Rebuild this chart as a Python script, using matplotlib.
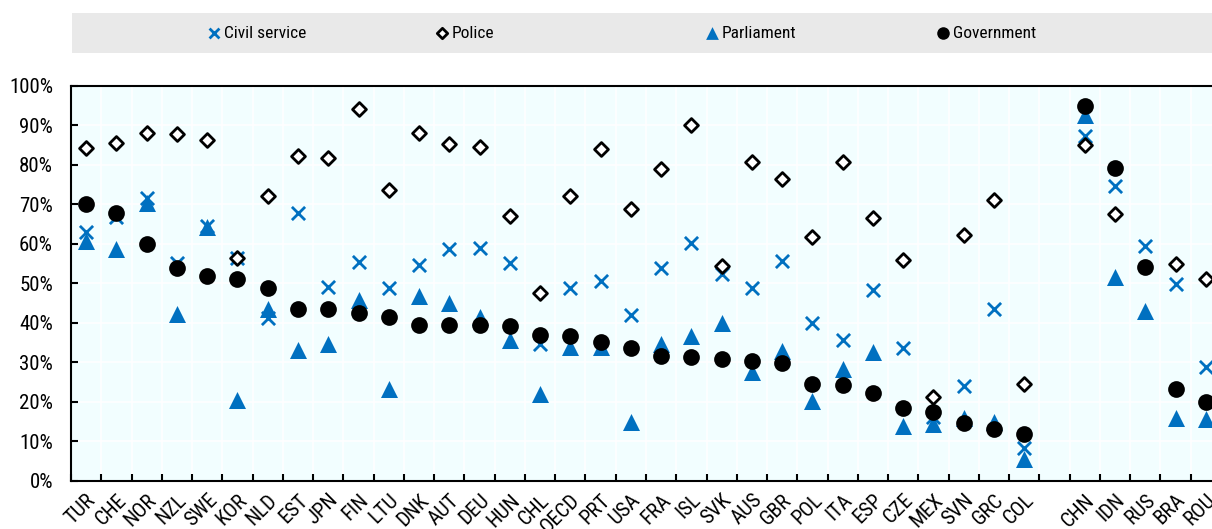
import numpy as np
import matplotlib
matplotlib.use("Agg")
import matplotlib.pyplot as plt
from matplotlib import font_manager
from matplotlib.ticker import MultipleLocator, FuncFormatter, FixedLocator
from matplotlib.legend import Legend

_names = {f.name for f in font_manager.fontManager.ttflist}
_narrow = [n for n in ["Liberation Sans Narrow", "Arial Narrow", "Roboto Condensed",
                       "Open Sans Condensed", "DejaVu Sans Condensed"] if n in _names]
plt.rcParams['font.family'] = _narrow[:1] + ['Liberation Sans', 'DejaVu Sans']
NARROW = bool(_narrow) and _narrow[0] != "DejaVu Sans Condensed"

countries = ["TUR", "CHE", "NOR", "NZL", "SWE", "KOR", "NLD", "EST", "JPN", "FIN", "LTU",
             "DNK", "AUT", "DEU", "HUN", "CHL", "OECD", "PRT", "USA", "FRA", "ISL", "SVK",
             "AUS", "GBR", "POL", "ITA", "ESP", "CZE", "MEX", "SVN", "GRC", "COL", "",
             "CHN", "IDN", "RUS", "BRA", "ROU"]

nan = np.nan
civil_service = [62.9, 66.8, 71.5, 55.0, 64.5, 56.3, 41.1, 67.8, 49.1, 55.3, 48.7,
                 54.7, 58.7, 58.9, 55.2, 34.6, 48.8, 50.6, 41.9, 53.8, 60.1, 52.3,
                 48.8, 55.7, 39.8, 35.6, 48.4, 33.5, 16.2, 24.0, 43.5, 8.2, nan,
                 87.3, 74.7, 59.5, 49.8, 28.9]
police = [84.2, 85.6, 88.0, 87.8, 86.2, 56.5, 72.1, 82.1, 81.7, 94.1, 73.6,
          87.9, 85.3, 84.6, 67.1, 47.4, 72.1, 83.9, 68.8, 78.8, 90.0, 54.3,
          80.8, 76.5, 61.8, 80.6, 66.5, 55.9, 21.3, 62.1, 71.1, 24.6, nan,
          84.9, 67.6, nan, 54.9, 51.1]
parliament = [60.6, 58.7, 70.2, 42.3, 64.3, 20.5, 43.5, 33.2, 34.7, 45.8, 23.3,
              46.8, 45.1, 41.4, 35.5, 21.9, 33.8, 33.9, 14.9, 34.6, 36.7, 40.0,
              27.5, 32.8, 20.3, 28.2, 32.7, 13.9, 14.3, 15.8, 14.8, 5.4, nan,
              92.5, 51.5, 43.0, 16.0, 15.6]
government = [70.0, 67.8, 59.8, 53.8, 51.7, 51.1, 48.9, 43.4, 43.4, 42.4, 41.5,
              39.5, 39.4, 39.3, 39.2, 37.0, 36.7, 35.1, 33.6, 31.6, 31.3, 30.8,
              30.4, 29.7, 24.5, 24.2, 22.3, 18.5, 17.5, 14.5, 13.1, 11.8, nan,
              94.9, 79.1, 54.0, 23.1, 19.8]

BLUE = "#0070C0"
W, H = 1212, 529
FS = 15 if NARROW else 13
fig = plt.figure(figsize=(W / 100, H / 100), dpi=100)

ax = fig.add_axes([71 / W, 1 - 480.7 / H, (1221 - 71) / W, (480.7 - 85.7) / H])
ax.set_facecolor("#F2FEFF")

x = np.arange(len(countries))
h1 = ax.scatter(x, civil_service, marker="x", s=90, color=BLUE, linewidths=2.0,
                label="Civil service", zorder=3)
h2 = ax.scatter(x, police, marker="D", s=50, facecolor="white", edgecolor="black",
                linewidths=2.0, label="Police", zorder=4)
h3 = ax.scatter(x, parliament, marker="^", s=150, color=BLUE, linewidths=0,
                label="Parliament", zorder=5)
h4 = ax.scatter(x, government, marker="o", s=145, color="black", linewidths=0,
                label="Government", zorder=6)

ax.set_xlim(-0.5, len(countries) - 0.5)
ax.set_ylim(0, 100)

ax.xaxis.set_major_locator(FixedLocator(x))
ax.set_xticklabels(countries, rotation=45, ha="right", rotation_mode="anchor",
                   fontsize=FS)
ax.xaxis.set_minor_locator(FixedLocator(np.arange(-0.5, len(countries), 1.0)))
ax.tick_params(axis="x", which="major", length=0, pad=7)
ax.tick_params(axis="x", which="minor", direction="in", length=5, width=1.5, color="black")

ax.yaxis.set_major_locator(MultipleLocator(10))
ax.yaxis.set_major_formatter(FuncFormatter(lambda v, p: f"{int(round(v))}%"))
ax.tick_params(axis="y", which="major", direction="in", length=5, width=1.5,
               labelsize=FS, pad=13)

ax.grid(True, axis="y", which="major", color="white", linewidth=1.2, zorder=0)
ax.grid(True, axis="x", which="minor", color="white", linewidth=1.2, zorder=0)
ax.set_axisbelow(True)

for s in ["left", "bottom", "top"]:
    ax.spines[s].set_linewidth(1.5)
    ax.spines[s].set_color("black")
ax.spines["right"].set_visible(False)

# legend band
band_left, band_right = 72, 1221
lax = fig.add_axes([band_left / W, 1 - 53 / H, (band_right - band_left) / W, 40 / H])
lax.set_facecolor("#E9E9E9")
lax.set_xticks([])
lax.set_yticks([])
for s in lax.spines.values():
    s.set_visible(False)

LFS = 12.5 if NARROW else 12
handle_len = 0.8
marker_px = [214, 442, 712, 943]
for hnd, mx in zip([h1, h2, h3, h4], marker_px):
    off = handle_len * LFS / 72 * 100 / 2
    anchor = (mx - off - band_left) / (band_right - band_left)
    lg = Legend(lax, [hnd], [hnd.get_label()], loc="center left",
                bbox_to_anchor=(anchor, 0.5), frameon=False, fontsize=LFS,
                handletextpad=0.15, handlelength=handle_len, borderpad=0,
                borderaxespad=0, markerscale=0.75)
    lax.add_artist(lg)

fig.savefig("out.png", dpi=100)
